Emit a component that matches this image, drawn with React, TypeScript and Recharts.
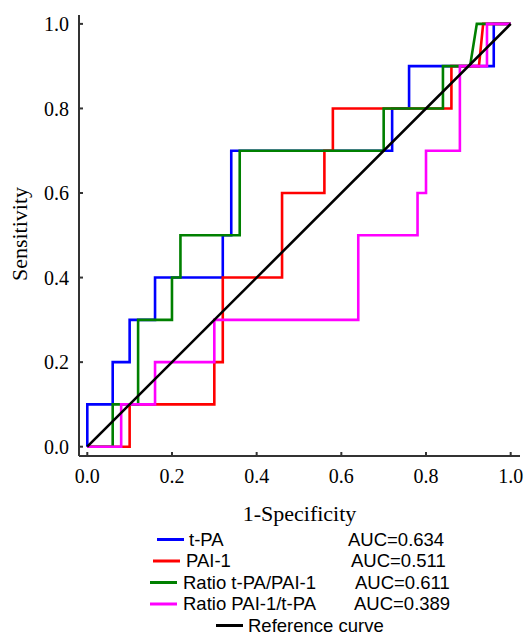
import React from 'react';
import { LineChart, Line, XAxis, YAxis } from 'recharts';

// Axis ticks
const TICKS = [0, 0.2, 0.4, 0.6, 0.8, 1.0];

// t-PA
const tpaFpr = [0, 0, 0.06, 0.06, 0.1, 0.1, 0.16, 0.16, 0.32, 0.32, 0.34, 0.34, 0.72, 0.72, 0.76, 0.76, 0.96, 0.96, 1];
const tpaSens = [0, 0.1, 0.1, 0.2, 0.2, 0.3, 0.3, 0.4, 0.4, 0.5, 0.5, 0.7, 0.7, 0.8, 0.8, 0.9, 0.9, 1.0, 1.0];

// PAI-1
const paiFpr = [0, 0.1, 0.1, 0.3, 0.3, 0.32, 0.32, 0.46, 0.46, 0.56, 0.56, 0.58, 0.58, 0.86, 0.86, 0.925, 0.935, 1];
const paiSens = [0, 0, 0.1, 0.1, 0.2, 0.2, 0.4, 0.4, 0.6, 0.6, 0.7, 0.7, 0.8, 0.8, 0.9, 0.9, 1.0, 1.0];

// Ratio t-PA/PAI-1
const ratio1Fpr = [0, 0.06, 0.06, 0.12, 0.12, 0.2, 0.2, 0.22, 0.22, 0.36, 0.36, 0.7, 0.7, 0.84, 0.84, 0.904, 0.92, 1];
const ratio1Sens = [0, 0, 0.1, 0.1, 0.3, 0.3, 0.4, 0.4, 0.5, 0.5, 0.7, 0.7, 0.8, 0.8, 0.9, 0.9, 1.0, 1.0];

// Ratio PAI-1/t-PA
const ratio2Fpr = [0, 0.08, 0.08, 0.16, 0.16, 0.3, 0.3, 0.64, 0.64, 0.78, 0.78, 0.8, 0.8, 0.88, 0.88, 0.944, 0.944, 1];
const ratio2Sens = [0, 0, 0.1, 0.1, 0.2, 0.2, 0.3, 0.3, 0.5, 0.5, 0.6, 0.6, 0.7, 0.7, 0.9, 0.9, 1.0, 1.0];

// Reference
const refFpr = [0, 1];
const refSens = [0, 1];

const seriesNames = ['t-PA', 'PAI-1', 'Ratio t-PA/PAI-1', 'Ratio PAI-1/t-PA', 'Reference curve'];
const seriesAuc = ['AUC=0.634', 'AUC=0.511', 'AUC=0.611', 'AUC=0.389', ''];
const seriesColors = ['#0000ff', '#ff0000', '#008000', '#ff00ff', '#000000'];

const toPts = (xs: number[], ys: number[]) => xs.map((x, i) => ({ x, y: ys[i] }));

const series = [
  toPts(tpaFpr, tpaSens),
  toPts(paiFpr, paiSens),
  toPts(ratio1Fpr, ratio1Sens),
  toPts(ratio2Fpr, ratio2Sens),
  toPts(refFpr, refSens),
];

// legend layout (styling only)
const legendLayout = [
  { lx: 157, tx: 189, ax: 348, y: 545.5 },
  { lx: 153, tx: 186, ax: 351, y: 567 },
  { lx: 150, tx: 183, ax: 355, y: 588.5 },
  { lx: 150, tx: 183, ax: 354, y: 610 },
  { lx: 216, tx: 248, ax: 0, y: 631.5 },
];

const SERIF = '"Liberation Serif", "Times New Roman", serif';
const SANS = '"Liberation Sans", Arial, sans-serif';
const fmt = (v: number) => v.toFixed(1);
const AX = '#333333';

const BottomTick = (p: any) => (
  <text x={p.x} y={p.y} dy="0.71em" textAnchor="middle" fontSize={20} fontFamily={SERIF} fill="#000">
    {fmt(p.payload.value)}
  </text>
);

const LeftTick = (p: any) => (
  <text x={p.x} y={p.y} dy="0.355em" textAnchor="end" fontSize={20} fontFamily={SERIF} fill="#000">
    {fmt(p.payload.value)}
  </text>
);

export default function App() {
  return (
    <div style={{ position: 'absolute', left: 0, top: 0, width: 525, height: 634, background: '#fff' }}>
      <LineChart width={525} height={634} margin={{ top: 15, right: 5, bottom: 148, left: 0 }}>
        <XAxis
          xAxisId="b"
          type="number"
          dataKey="x"
          orientation="bottom"
          domain={[-0.0196, 1.022]}
          allowDataOverflow
          ticks={TICKS}
          height={30}
          tickSize={-4}
          tickMargin={17}
          stroke={AX}
          strokeWidth={2}
          tick={BottomTick}
          label={(p: any) => {
            const vb = p.viewBox || {};
            return (
              <text x={(vb.x || 79) + (vb.width || 441) / 2} y={521} textAnchor="middle" fontSize={22} fontFamily={SERIF} fill="#000">
                1-Specificity
              </text>
            );
          }}
        />
        <XAxis
          xAxisId="t"
          type="number"
          dataKey="x"
          orientation="top"
          domain={[-0.0196, 1.022]}
          allowDataOverflow
          ticks={TICKS}
          tickFormatter={() => ''}
          height={0}
          tickSize={-4}
          stroke={AX}
          strokeWidth={2}
        />
        <YAxis
          yAxisId="l"
          type="number"
          orientation="left"
          domain={[-0.022, 1.021]}
          allowDataOverflow
          ticks={TICKS}
          width={79}
          tickSize={-4}
          tickMargin={14}
          stroke={AX}
          strokeWidth={2}
          tick={LeftTick}
          label={() => (
            <text x={27} y={234} transform="rotate(-90 27 234)" textAnchor="middle" fontSize={22} fontFamily={SERIF} fill="#000">
              Sensitivity
            </text>
          )}
        />
        <YAxis
          yAxisId="r"
          type="number"
          orientation="right"
          domain={[-0.022, 1.021]}
          allowDataOverflow
          ticks={TICKS}
          tickFormatter={() => ''}
          width={0}
          tickSize={-4}
          stroke={AX}
          strokeWidth={2}
        />
        {series.map((pts, i) => (
          <Line
            key={seriesNames[i]}
            data={pts}
            dataKey="y"
            xAxisId="b"
            yAxisId="l"
            type="linear"
            stroke={seriesColors[i]}
            strokeWidth={2.6}
            dot={false}
            activeDot={false}
            isAnimationActive={false}
          />
        ))}
      </LineChart>
      <svg width={525} height={634} style={{ position: 'absolute', left: 0, top: 0, pointerEvents: 'none' }}>
        {seriesNames.map((name, i) => {
          const L = legendLayout[i];
          return (
            <g key={name}>
              <line x1={L.lx} x2={L.lx + 27} y1={L.y - 6} y2={L.y - 6} stroke={seriesColors[i]} strokeWidth={3} />
              <text x={L.tx} y={L.y} fontSize={18.5} fontFamily={SANS} fill="#000">{name}</text>
              {seriesAuc[i] ? (
                <text x={L.ax} y={L.y} fontSize={18.5} fontFamily={SANS} fill="#000">{seriesAuc[i]}</text>
              ) : null}
            </g>
          );
        })}
      </svg>
    </div>
  );
}
